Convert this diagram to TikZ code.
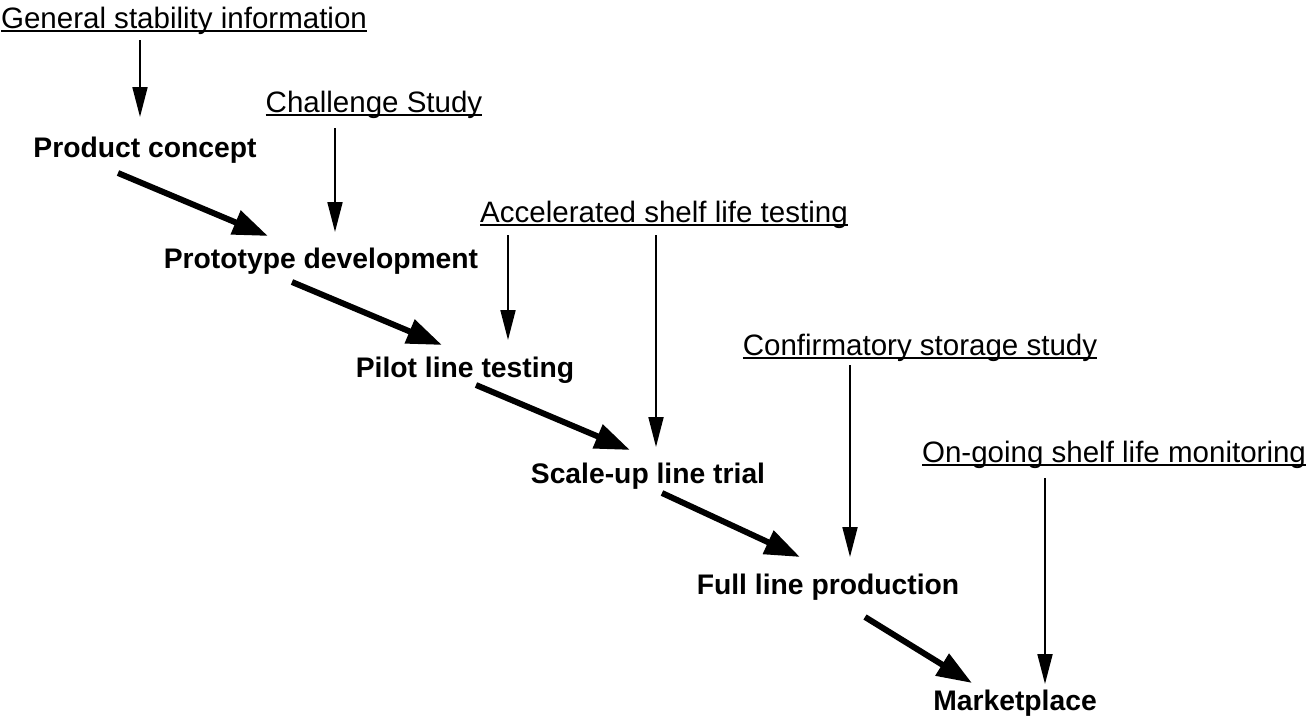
\documentclass[tikz,border=0pt]{standalone}
\usepackage{fontspec}
\setmainfont{Liberation Sans}
\usetikzlibrary{arrows.meta, positioning, calc}

% tight underline for the study labels
\newcommand\studyline[1]{\setbox0\hbox{#1}\rlap{\rule[-2.2pt]{\wd0}{0.8pt}}\box0}

\begin{document}
\begin{tikzpicture}[x=0.02cm, y=-0.02cm,
    stage/.style={font=\fontsize{16.1}{19}\selectfont\bfseries, inner sep=0pt, anchor=base},
    study/.style={font=\fontsize{16.8}{20}\selectfont, inner sep=0pt, anchor=base},
    feed/.style={-{Triangle[length=17pt, width=8.5pt]}, line width=1.1pt},
    flow/.style={-{Triangle[length=20pt, width=14pt]}, line width=3.4pt}]
    \useasboundingbox (0,0) rectangle (1308,727);

    % Studies (underlined)
    \node[study] (gen) at (184,28) {\studyline{General stability information}};
    \node[study] (chs) at (374,112) {\studyline{Challenge Study}};
    \node[study] (asl) at (664,222) {\studyline{Accelerated shelf life testing}};
    \node[study] (css) at (920,355) {\studyline{Confirmatory storage study}};
    \node[study] (ogm) at (1114,462) {\studyline{On-going shelf life monitoring}};

    % Stages
    \node[stage] (pcn) at (145,157) {Product concept};
    \node[stage] (pdv) at (321,268) {Prototype development};
    \node[stage] (plt) at (465,377) {Pilot line testing};
    \node[stage] (slt) at (648,483) {Scale-up line trial};
    \node[stage] (flp) at (828,594) {Full line production};
    \node[stage] (mkt) at (1015,710) {Marketplace};

    % Study inputs
    \draw[feed] ($(gen.base)+(-44,12)$) -- ($(pcn.base)+(-5,-40)$);
    \draw[feed] ($(chs.base)+(-39,16)$) -- ($(pdv.base)+(14,-36)$);
    \draw[feed] ($(asl.base)+(-156,13)$) -- ($(plt.base)+(43,-37)$);
    \draw[feed] ($(asl.base)+(-8,13)$) -- ($(slt.base)+(8,-36)$);
    \draw[feed] ($(css.base)+(-70,10)$) -- ($(flp.base)+(22,-37)$);
    \draw[feed] ($(ogm.base)+(-69,16)$) -- ($(mkt.base)+(30,-26)$);

    % Stage flow
    \draw[flow] ($(pcn.base)+(-27,16)$) -- ($(pdv.base)+(-53,-32)$);
    \draw[flow] ($(pdv.base)+(-29,14)$) -- ($(plt.base)+(-23,-32)$);
    \draw[flow] ($(plt.base)+(11,8)$) -- ($(slt.base)+(-18,-33)$);
    \draw[flow] ($(slt.base)+(14,10)$) -- ($(flp.base)+(-28,-37)$);
    \draw[flow] ($(flp.base)+(37,23)$) -- ($(mkt.base)+(-43,-27)$);
\end{tikzpicture}
\end{document}
